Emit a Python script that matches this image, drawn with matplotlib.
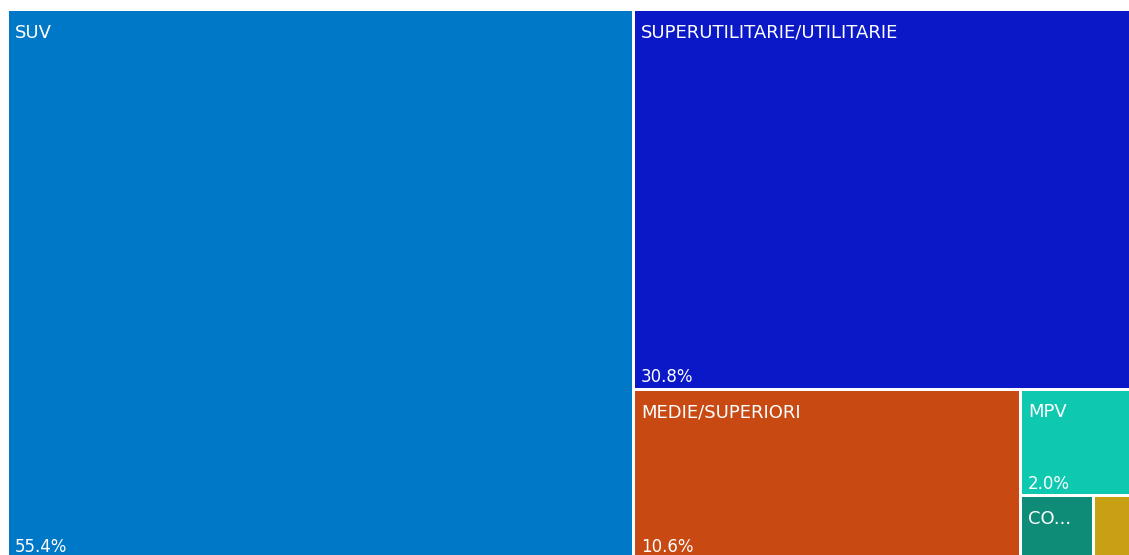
import matplotlib
matplotlib.use("Agg")
import matplotlib.pyplot as plt
from matplotlib.patches import Rectangle

# data (share of total, %)
labels = ["SUV", "SUPERUTILITARIE/UTILITARIE", "MEDIE/SUPERIORI", "MPV", "CO...", ""]
values = [55.4, 30.8, 10.6, 2.0, 0.75, 0.45]
pct_labels = ["55.4%", "30.8%", "10.6%", "2.0%", "", ""]
colors = ["#0078C8", "#0A18C8", "#C84A12", "#0EC8B0", "#0E8C78", "#C8A014"]


def worst(row, side):
    s = sum(row)
    return max(max(side * side * r / (s * s), s * s / (side * side * r)) for r in row)


def squarify(vals, x, y, w, h):
    # vals are areas, already scaled to w*h
    rects = []
    vals = list(vals)
    while vals:
        side = min(w, h)
        row = [vals.pop(0)]
        while vals and worst(row + [vals[0]], side) <= worst(row, side):
            row.append(vals.pop(0))
        s = sum(row)
        if w >= h:
            cw = s / h
            cy = y
            for r in row:
                rects.append((x, cy, cw, r / cw))
                cy += r / cw
            x += cw
            w -= cw
        else:
            rh = s / w
            cx = x
            for r in row:
                rects.append((cx, y, r / rh, rh))
                cx += r / rh
            y += rh
            h -= rh
    return rects


# full treemap area in pixels (it runs past the saved frame at right and bottom)
X0, Y0, W, H = 7, 9.5, 1130, 550
total = sum(values)
areas = [v / total * W * H for v in values]
rects = squarify(areas, X0, Y0, W, H)

fig = plt.figure(figsize=(11.29, 5.55), dpi=100)
ax = fig.add_axes([0, 0, 1, 1])
ax.set_xlim(0, 1129)
ax.set_ylim(555, 0)
ax.axis("off")

gap = 1.5
for (rx, ry, rw, rh), lab, pct, col in zip(rects, labels, pct_labels, colors):
    ax.add_patch(Rectangle((rx + gap, ry + gap), rw - 2 * gap, rh - 2 * gap,
                           facecolor=col, edgecolor="none"))
    if lab:
        ax.text(rx + 8, ry + 23, lab, color="white", fontsize=13,
                family="DejaVu Sans", va="center", ha="left")
    if pct:
        ax.text(rx + 8, ry + rh - 12, pct, color="white", fontsize=12,
                family="DejaVu Sans", va="center", ha="left")

fig.savefig("out.png", dpi=100, facecolor="white")
